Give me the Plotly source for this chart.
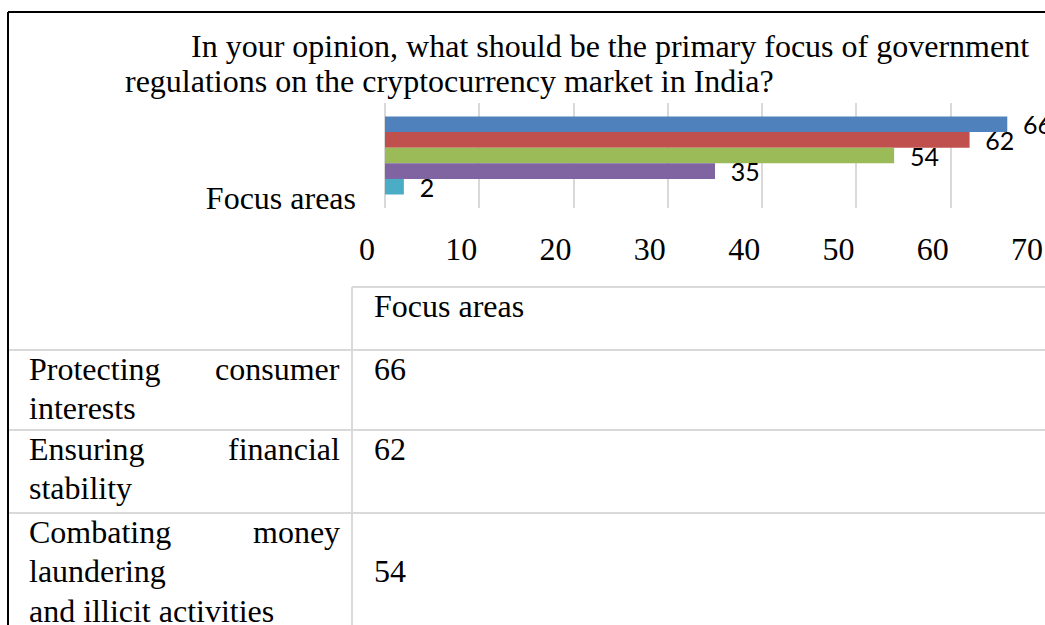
import plotly.graph_objects as go

W, H = 1045, 625

title_lines = ["In your opinion, what should be the primary focus of government",
               "regulations on the cryptocurrency market in India?"]
category = ["Focus areas"]
series_names = ["Protecting consumer interests", "Ensuring financial stability",
                "Combating money laundering and illicit activities", "Option 4", "Option 5"]
series_values = [66, 62, 54, 35, 2]
series_colors = ["#4F81BD", "#C0504D", "#9BBB59", "#8064A2", "#4BACC6"]
x_ticks = [0, 10, 20, 30, 40, 50, 60, 70]

table_header = "Focus areas"
table_labels = [["Protecting consumer", "interests"],
                ["Ensuring financial", "stability"],
                ["Combating money", "laundering", "and illicit activities"]]
table_values = series_values[:3]

SERIF = "Liberation Serif, Times New Roman, serif"
SANS = "Lato, Calibri, sans-serif"
GRID = "#D9D9D9"


def px(x):
    return x / W


def py(y):
    return 1 - y / H


def text_at(x, baseline, text, anchor="left", size=32):
    # one line of text with its baseline on the given pixel row
    return dict(x=px(x), y=py(baseline - 0.34 * size), xref="paper", yref="paper",
                text=text, showarrow=False, xanchor=anchor, yanchor="middle",
                font=dict(family=SERIF, size=size, color="black"))


def hline(x0, x1, y, color, width=2):
    return dict(type="line", xref="paper", yref="paper",
                x0=px(x0), x1=px(x1), y0=py(y), y1=py(y),
                line=dict(color=color, width=width))


def vline(x, y0, y1, color, width=2):
    return dict(type="line", xref="paper", yref="paper",
                x0=px(x), x1=px(x), y0=py(y0), y1=py(y1),
                line=dict(color=color, width=width))


fig = go.Figure()
for name, val, col in zip(series_names, series_values, series_colors):
    fig.add_trace(go.Bar(
        y=category, x=[val], name=name, orientation="h",
        marker=dict(color=col, line=dict(width=0)),
        texttemplate="\u00a0\u00a0%{x}", textposition="outside",
        textfont=dict(family=SANS, size=25, color="black"),
        constraintext="none", cliponaxis=False,
    ))

annotations = []
annotations.append(text_at(189, 57, title_lines[0]))
annotations.append(text_at(123, 92, title_lines[1]))

# table below the chart
col_x, lab_l, lab_r, val_l = 352, 27, 342, 372
head_top = 287
row_tops = [350, 430, 513]
first, pitch = 29.5, 39.5
value_line = [0, 0, 1]

annotations.append(text_at(val_l, head_top + first, table_header))
for r, lines in enumerate(table_labels):
    for i, line in enumerate(lines):
        base = row_tops[r] + first + i * pitch
        words = line.split(" ")
        if i < len(lines) - 1 and len(words) == 2:
            annotations.append(text_at(lab_l, base, words[0]))
            annotations.append(text_at(lab_r, base, words[1], anchor="right"))
        else:
            annotations.append(text_at(lab_l, base, line))
    annotations.append(text_at(val_l, row_tops[r] + first + value_line[r] * pitch,
                               str(table_values[r])))

shapes = [
    hline(8, W + 20, 12, "black"),
    vline(8, 12, H + 20, "black"),
    hline(col_x, W + 20, head_top, GRID),
    vline(col_x, head_top, H + 20, GRID),
]
for t in row_tops:
    shapes.append(hline(9, W + 20, t, GRID))

fig.update_layout(
    width=W, height=H,
    margin=dict(l=0, r=0, t=0, b=0, autoexpand=False),
    paper_bgcolor="white", plot_bgcolor="white",
    barmode="group", bargap=0.257,
    showlegend=False,
    annotations=annotations,
    shapes=shapes,
    xaxis=dict(
        domain=[px(385), px(1045)], range=[0, 70], tickvals=x_ticks,
        showgrid=True, gridcolor=GRID, gridwidth=2,
        zeroline=True, zerolinecolor=GRID, zerolinewidth=2,
        showline=False, ticks="",
        tickfont=dict(family=SERIF, size=32, color="black"),
        ticklabelshift=-18, ticklabelstandoff=19, ticklabeloverflow="allow",
    ),
    yaxis=dict(
        domain=[py(208), py(103)], autorange="reversed",
        showgrid=False, zeroline=False, showline=False, ticks="",
        tickfont=dict(family=SERIF, size=32, color="black"),
        ticklabelshift=-42, ticklabelstandoff=28,
    ),
)

fig.write_html("out.html", config={"displayModeBar": False},
               post_script="document.body.style.margin='0';document.body.style.overflow='hidden';")
